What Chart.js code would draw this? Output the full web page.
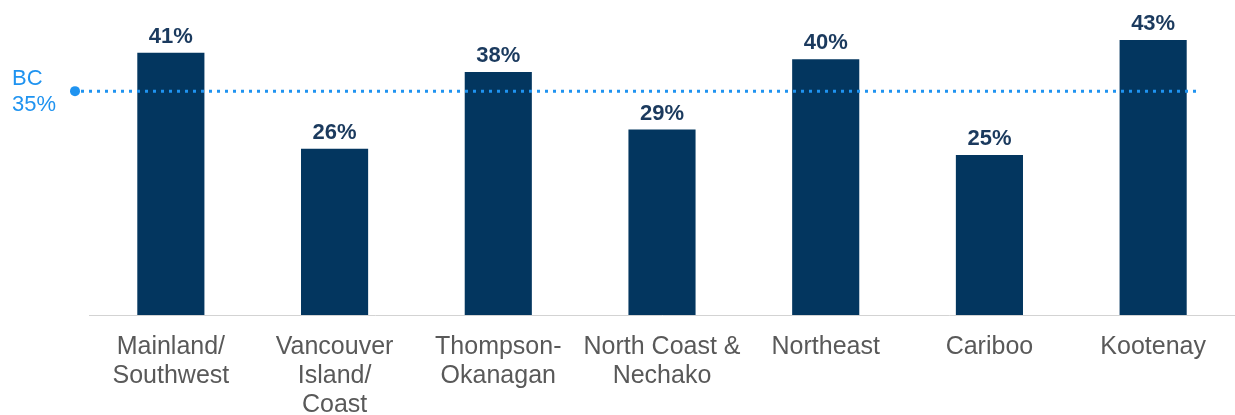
<!DOCTYPE html>
<html>
<head>
<meta charset="utf-8">
<title>Regional share</title>
<script src="https://cdn.jsdelivr.net/npm/chart.js@4/dist/chart.umd.min.js"></script>
<style>
    html, body { margin: 0; padding: 0; background: #fff; }
    #wrap { width: 1235px; height: 415px; position: relative; }
</style>
</head>
<body>
<div id="wrap"><canvas id="myChart" width="1235" height="415"></canvas></div>
<script>
const regions = [
    ['Mainland/', 'Southwest'],
    ['Vancouver', 'Island/', 'Coast'],
    ['Thompson-', 'Okanagan'],
    ['North Coast &', 'Nechako'],
    'Northeast',
    'Cariboo',
    'Kootenay'
];
const shares = [41, 26, 38, 29, 40, 25, 43];
const bcAverage = 35;
const bcLabel = ['BC', '35%'];

const FONT = "'Liberation Sans', Arial, Helvetica, sans-serif";
const NAVY = '#03365f';
const LABEL_NAVY = '#1b3a5e';
const BLUE = '#1f93f0';

// value labels above each bar
const barValues = {
    id: 'barValues',
    afterDatasetsDraw(chart) {
        const ctx = chart.ctx;
        const meta = chart.getDatasetMeta(0);
        ctx.save();
        ctx.font = 'bold 22px ' + FONT;
        ctx.fillStyle = LABEL_NAVY;
        ctx.textAlign = 'center';
        ctx.textBaseline = 'alphabetic';
        meta.data.forEach((bar, i) => {
            ctx.fillText(shares[i] + '%', bar.x, bar.y - 10);
        });
        ctx.restore();
    }
};

// dotted BC reference line with its marker and label on the left
const bcLine = {
    id: 'bcLine',
    afterDatasetsDraw(chart) {
        const ctx = chart.ctx;
        const y = chart.scales.y.getPixelForValue(bcAverage);
        const x0 = 75;
        const x1 = 1200;
        ctx.save();
        ctx.strokeStyle = BLUE;
        ctx.lineWidth = 3;
        ctx.setLineDash([3, 5]);
        ctx.beginPath();
        ctx.moveTo(x0 + 6, y);
        ctx.lineTo(x1, y);
        ctx.stroke();
        ctx.setLineDash([]);
        ctx.fillStyle = BLUE;
        ctx.beginPath();
        ctx.arc(x0, y, 5, 0, Math.PI * 2);
        ctx.fill();
        ctx.font = '22px ' + FONT;
        ctx.textAlign = 'left';
        ctx.textBaseline = 'alphabetic';
        ctx.fillText(bcLabel[0], 12, y - 6);
        ctx.fillText(bcLabel[1], 12, y + 20);
        ctx.restore();
    }
};

const ctx = document.getElementById('myChart');
new Chart(ctx, {
    type: 'bar',
    data: {
        labels: regions,
        datasets: [{
            data: shares,
            backgroundColor: NAVY,
            borderWidth: 0,
            barPercentage: 0.41,
            categoryPercentage: 1
        }]
    },
    options: {
        responsive: false,
        animation: false,
        layout: { padding: { left: 89, right: 0, top: 8, bottom: 0 } },
        plugins: {
            legend: { display: false },
            tooltip: { enabled: false }
        },
        scales: {
            x: {
                grid: { display: false, drawTicks: false },
                border: { display: true, color: '#d3d3d3', width: 1 },
                ticks: {
                    color: '#595959',
                    font: { family: FONT, size: 25, lineHeight: 1.15 },
                    padding: 18,
                    maxRotation: 0,
                    autoSkip: false
                },
                afterFit(scale) {
                    scale.height = 100;
                }
            },
            y: {
                display: false,
                min: 0,
                max: 48
            }
        }
    },
    plugins: [barValues, bcLine]
});
</script>
</body>
</html>
